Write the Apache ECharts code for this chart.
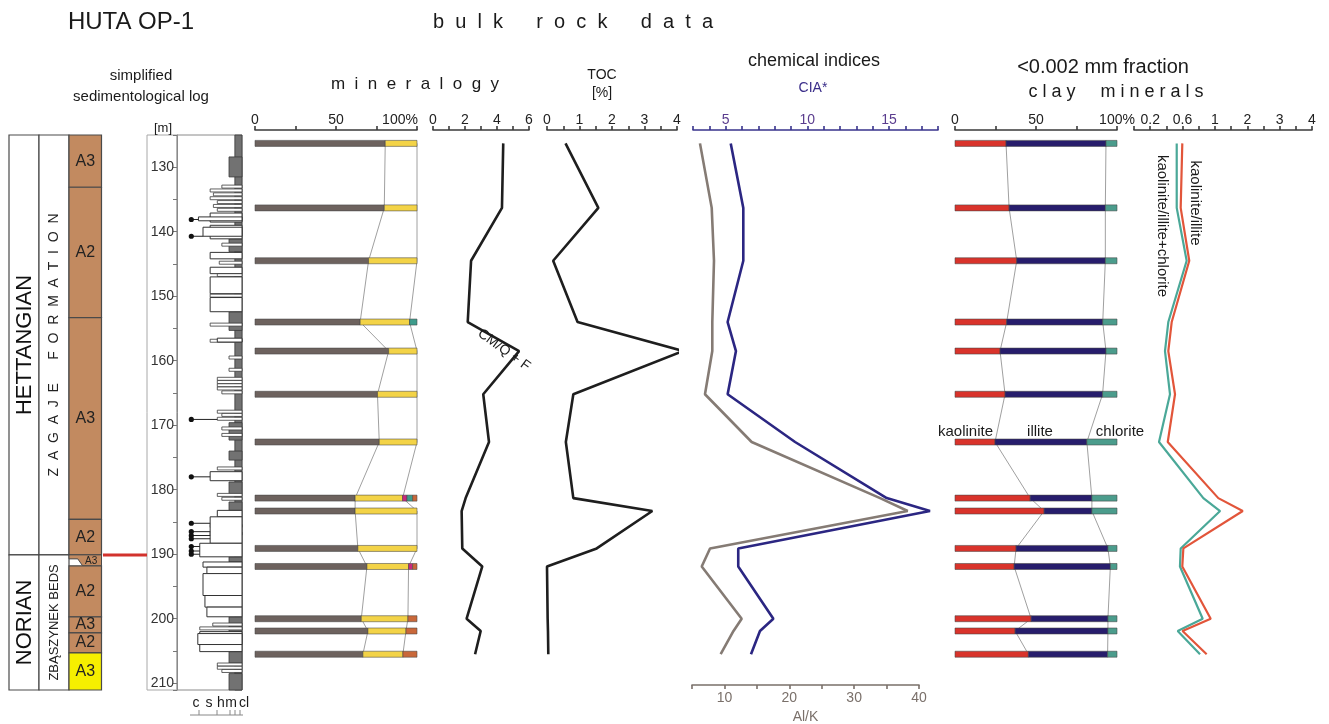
<!DOCTYPE html>
<html><head><meta charset="utf-8">
<script src="https://cdn.jsdelivr.net/npm/echarts@6/dist/echarts.min.js"></script>
<style>html,body{margin:0;padding:0;background:#fff}#c{width:1329px;height:724px}</style>
</head><body><div id="c"></div>
<script>
// ---------------- DATA ----------------
const sampleDepths = [126.3, 136.3, 144.5, 154.0, 158.5, 165.2, 172.6, 181.3, 183.3, 189.1, 191.9, 200.0, 201.9, 205.5];
// bulk rock mineralogy [%]
const bulkClayMinerals = [80.4, 79.8, 70.1, 64.9, 82.5, 75.6, 76.7, 61.8, 61.8, 63.5, 69.1, 65.6, 69.7, 66.6];
const bulkQuartz       = [19.6, 20.2, 29.9, 30.5, 17.5, 24.4, 23.3, 29.3, 38.2, 36.5, 25.7, 28.8, 23.5, 24.7];
const bulkPink         = [0, 0, 0, 0, 0, 0, 0, 2.7, 0, 0, 2.5, 0, 0, 0];
const bulkTeal         = [0, 0, 0, 4.6, 0, 0, 0, 3.5, 0, 0, 0, 0, 0, 0];
const bulkOrange       = [0, 0, 0, 0, 0, 0, 0, 2.7, 0, 0, 2.7, 5.6, 6.8, 8.7];
const cmQF   = [4.39, 4.31, 2.38, 2.17, 5.38, 3.14, 3.5, 2.04, 1.79, 1.83, 3.08, 2.1, 2.98, 2.63];
const toc    = [0.57, 1.58, 0.19, 0.94, 4.19, 0.81, 0.58, 0.81, 3.24, 1.53, 0.0, 0.02, 0.03, 0.04];
const ciaStar= [5.31, 6.08, 6.08, 5.12, 5.63, 5.12, 9.25, 14.86, 17.51, 5.77, 5.77, 7.92, 7.1, 6.55];
const alK    = [6.23, 8.04, 8.39, 8.13, 8.13, 7.0, 14.2, 34.0, 38.26, 7.78, 6.5, 12.66, 11.4, 9.42];
// <0.002 mm clay minerals [%]
const kaolinite = [31.5, 33.4, 38.1, 31.9, 27.8, 30.9, 24.7, 46.4, 55.0, 37.7, 36.5, 47.0, 37.1, 45.3];
const illite    = [61.7, 59.4, 54.7, 59.3, 65.4, 60.2, 56.7, 38.1, 29.5, 56.7, 59.4, 47.4, 57.3, 48.9];
const chlorite  = [6.8, 7.2, 7.2, 8.8, 6.8, 8.9, 18.6, 15.5, 15.5, 5.6, 4.1, 5.6, 5.6, 5.8];
const kaolIllite     = [0.597, 0.577, 0.683, 0.466, 0.424, 0.507, 0.417, 1.105, 1.86, 0.61, 0.597, 0.948, 0.60, 0.898];
const kaolIlliteChl  = [0.528, 0.528, 0.651, 0.424, 0.383, 0.445, 0.309, 0.857, 1.16, 0.577, 0.568, 0.849, 0.54, 0.816];
// stratigraphy
const stageNames = ['HETTANGIAN', 'NORIAN'];
const stageTops  = [125, 190.1];
const stageBases = [190.1, 211.05];
const formationNames = ['Z  A  G  A  J  E      F  O  R  M  A  T  I  O  N', 'ZBĄSZYNEK BEDS'];
const formationTops  = [125, 190.1];
const formationBases = [190.1, 211.05];
const faciesLabels = ['A3', 'A2', 'A3', 'A2', 'A3', 'A2', 'A3', 'A2', 'A3'];
const faciesTops   = [125, 133.1, 153.3, 184.6, 190.1, 191.8, 199.7, 202.2, 205.3];
const faciesBases  = [133.1, 153.3, 184.6, 190.1, 191.8, 199.7, 202.2, 205.3, 211.05];
const boundaryDepth = 190.1;
// lithological log: [top, base] mudstone; [top, base, grain index of left edge] sandstone
const logMudBase = [[125, 211.05]];
const logMudWide = [[128.4,131.5],[141.1,143.1],[152.4,155.3],[169.6,172.3],[174.0,175.4],[178.8,180.6],[181.9,183.2],[190.4,191.2],[199.7,202.0],[205.1,206.9],[208.5,211.05]];
const logSand = [[137.1,138.5,5.1],[137.7,138.3,3.3],[139.0,141.1,5.1],[139.3,140.7,4.0],[143.2,144.2,5.1],[145.5,146.5,5.1],[147.0,149.6,5.1],[150.2,152.4,5.1],[156.5,157.1,6.2],[177.2,178.6,5.1],[183.2,184.2,6.2],[184.2,188.3,5.1],[188.3,190.4,3.5],[191.2,192.0,4.0],[192.0,193.0,4.6],[193.0,196.4,4.0],[196.4,198.2,4.3],[198.2,199.7,4.6],[202.0,205.1,3.5],[202.3,204.0,3.2]];
const logThinBeds = [[133.0,6.9],[133.6,5.1],[134.2,5.6],[134.8,5.1],[135.4,6.2],[136.0,5.6],[136.6,6.2],[142.0,6.9],[144.8,6.5],[146.7,6.2],[149.9,5.1],[154.4,5.1],[156.9,5.1],[159.5,8.0],[161.4,8.0],[162.8,6.2],[163.3,6.2],[163.8,6.2],[164.3,6.2],[164.9,6.9],[167.9,6.2],[168.4,6.9],[169.0,6.2],[170.5,6.9],[171.5,6.9],[176.7,6.2],[180.8,6.2],[181.4,6.9],[185.6,5.1],[186.8,5.1],[200.9,5.5],[201.5,3.5],[207.1,6.2],[207.6,6.2],[208.1,6.9]];
const logPebbles = [[138.1,3.3],[140.7,4.0],[169.1,6.2],[178.0,5.1],[185.2,5.1],[186.5,5.1],[187.1,5.1],[187.6,5.1],[188.8,3.5],[189.5,3.5],[190.0,3.5]];
// tick labels
const mineralogyTickLabels = {0:'0', 50:'50', 100:'100%'};
const cmTickLabels = {0:'0', 2:'2', 4:'4', 6:'6'};
const tocTickLabels = {0:'0', 1:'1', 2:'2', 3:'3', 4:'4'};
const ciaTickLabels = {5:'5', 10:'10', 15:'15'};
const alkTickLabels = {10:'10', 20:'20', 30:'30', 40:'40'};
const ratioTickLabels = {1:'0.2', 3:'0.6', 5:'1', 7:'2', 9:'3', 11:'4'};

// ---------------- LAYOUT / STYLE ----------------
const FONT = '"Liberation Sans", Arial, sans-serif';
const TOP = 135, H = 555, D_MIN = 125, D_MAX = 211.05;
const PX_PER_M = H / (D_MAX - D_MIN);
const BAR_H = 6;
const COL = {stage:[0,30], formation:[30,60], facies:[60,92.5], marker:[94,138]};
const bulkColors = ['#6d625e', '#f3d347', '#c8287e', '#3e9c8c', '#c9683a'];
const clayColors = ['#d9332b', '#271d6c', '#4b9c8c'];
const faciesFill = ['#c28a60','#c28a60','#c28a60','#c28a60','#c28a60','#c28a60','#c28a60','#c28a60','#f6ef00'];
const faciesPinch = [0,0,0,0,1,0,0,0,0];
const AXIS_C = '#3a3a3a';

function ratioT(v){ return v <= 1 ? v * 5 : 5 + (v - 1) * 2; }
function stackSegments(comps){
  const out = [];
  sampleDepths.forEach((d, i) => {
    let acc = 0;
    comps.forEach((arr, k) => { const v = arr[i]; if (v > 0) out.push([d, acc, acc + v, k]); acc += v; });
  });
  return out;
}
function cum(comps, i){ return comps.reduce((s, a) => s + a[i], 0); }
function barRender(colors){
  return (params, api) => {
    const d = api.value(0), a = api.value(1), b = api.value(2), k = api.value(3);
    const p1 = api.coord([a, d]), p2 = api.coord([b, d]);
    return {type:'rect', shape:{x:p1[0], y:p1[1]-BAR_H/2, width:p2[0]-p1[0], height:BAR_H},
      style:{fill:colors[k], stroke:'rgba(70,70,70,0.55)', lineWidth:1}};
  };
}

const grids = [
  {left:9,   width:138}, // 0 columns
  {left:177, width:65},  // 1 log
  {left:255, width:162}, // 2 mineralogy
  {left:433, width:96},  // 3 CM/Q+F
  {left:547, width:130}, // 4 TOC
  {left:693, width:245}, // 5 CIA*
  {left:692, width:227, height:550}, // 6 Al/K
  {left:955, width:162}, // 7 clay
  {left:1134, width:178},// 8 ratios
  {left:147, width:30}   // 9 depth frame
].map((g, i) => Object.assign({top:TOP, height:H, containLabel:false, outerBoundsMode:'none',
   show: i === 1 || i === 9, borderColor: i === 9 ? '#a8a8a8' : '#8a8a8a', borderWidth:1}, g));

function topAxis(gi, min, max, interval, labels, extra){
  return Object.assign({
    gridIndex:gi, type:'value', position:'top', offset:5, min, max, interval,
    axisLine:{show:true, onZero:false, lineStyle:{color:AXIS_C, width:1.6}},
    axisTick:{show:true, length:4, lineStyle:{color:AXIS_C, width:1.6}},
    splitLine:{show:false},
    axisLabel:{fontSize:14, fontFamily:FONT, color:'#222', margin:3,
      formatter: v => { const k = Math.round(v*1000)/1000; return labels[k] !== undefined ? labels[k] : ''; }}
  }, extra || {});
}

const xAxes = [
  {gridIndex:0, type:'value', min:0, max:138, show:false},
  {gridIndex:1, type:'value', min:0, max:10, show:false},
  topAxis(2, 0, 100, 25, mineralogyTickLabels),
  topAxis(3, 0, 6, 1, cmTickLabels),
  topAxis(4, 0, 4, 0.5, tocTickLabels),
  topAxis(5, 3, 18, 1, ciaTickLabels, {axisLine:{show:true,onZero:false,lineStyle:{color:'#38338c',width:1.6}}, axisTick:{length:4,lineStyle:{color:'#38338c',width:1.6}}}),
  {gridIndex:6, type:'value', position:'bottom', min:5, max:40, interval:5,
    axisLine:{show:true, onZero:false, lineStyle:{color:'#7a706a', width:1.6}},
    axisTick:{length:4, lineStyle:{color:'#7a706a', width:1.6}}, splitLine:{show:false},
    axisLabel:{fontSize:14, fontFamily:FONT, color:'#7a706a', margin:6, formatter: v => alkTickLabels[v] || ''},
    name:'Al/K', nameLocation:'middle', nameGap:25, nameTextStyle:{fontSize:14, fontFamily:FONT, color:'#7a706a'}},
  topAxis(7, 0, 100, 25, mineralogyTickLabels),
  topAxis(8, 0, 11, 1, ratioTickLabels),
  {gridIndex:9, type:'value', min:0, max:1, show:false}
];
xAxes[5].axisLabel.color = '#5a3c8e';
// shift the "100%" label of the mineralogy axis to the left of its tick
xAxes[2].axisLabel.formatter = v => v === 100 ? '{r|100%}' : (mineralogyTickLabels[v] || '');
xAxes[2].axisLabel.rich = {r:{fontSize:14, fontFamily:FONT, color:'#222', padding:[0,34,0,0]}};

const yAxes = grids.map((g, i) => {
  const max = i === 6 ? D_MIN + 550 / PX_PER_M : D_MAX;
  if (i === 1) return {gridIndex:1, type:'value', inverse:true, min:D_MIN, max, interval:5,
    axisLine:{show:true, onZero:false, lineStyle:{color:'#8a8a8a', width:1}},
    axisTick:{show:true, length:4, lineStyle:{color:'#777'}}, splitLine:{show:false},
    axisLabel:{fontSize:14, fontFamily:FONT, color:'#333', margin:3,
      formatter: v => (Math.abs(v % 10) < 1e-6 ? String(Math.round(v)) : '')}};
  return {gridIndex:i, type:'value', inverse:true, min:D_MIN, max, show:false};
});

function lineSeries(gi, xs, color, width, tf){
  return {type:'line', xAxisIndex:gi, yAxisIndex:gi, showSymbol:false, silent:true, z:3, clip:false,
    lineStyle:{color, width}, data: sampleDepths.map((d, i) => [tf ? tf(xs[i]) : xs[i], d])};
}
function connector(gi, xs){
  return {type:'line', xAxisIndex:gi, yAxisIndex:gi, showSymbol:false, silent:true, z:1,
    lineStyle:{color:'#a0a0a0', width:1}, data: sampleDepths.map((d, i) => [xs[i], d])};
}

const bulkComps = [bulkClayMinerals, bulkQuartz, bulkPink, bulkTeal, bulkOrange];
const clayComps = [kaolinite, illite, chlorite];

const series = [
  // stage column
  {type:'custom', xAxisIndex:0, yAxisIndex:0, silent:true, encode:{x:2, y:[0,1]},
   data: stageTops.map((t, i) => [t, stageBases[i], i]),
   renderItem:(params, api) => {
     const i = params.dataIndex;
     const p1 = api.coord([COL.stage[0], api.value(0)]), p2 = api.coord([COL.stage[1], api.value(1)]);
     return {type:'group', children:[
       {type:'rect', shape:{x:p1[0], y:p1[1], width:p2[0]-p1[0], height:p2[1]-p1[1]}, style:{fill:'#fff', stroke:'#4a4a4a', lineWidth:1.2}},
       {type:'text', x:(p1[0]+p2[0])/2+1, y:(p1[1]+p2[1])/2, rotation:Math.PI/2,
        style:{text:stageNames[i], font:'22px '+FONT, fill:'#111', align:'center', verticalAlign:'middle'}}
     ]};
   }},
  // formation column
  {type:'custom', xAxisIndex:0, yAxisIndex:0, silent:true, encode:{x:2, y:[0,1]},
   data: formationTops.map((t, i) => [t, formationBases[i], i]),
   renderItem:(params, api) => {
     const i = params.dataIndex;
     const p1 = api.coord([COL.formation[0], api.value(0)]), p2 = api.coord([COL.formation[1], api.value(1)]);
     return {type:'group', children:[
       {type:'rect', shape:{x:p1[0], y:p1[1], width:p2[0]-p1[0], height:p2[1]-p1[1]}, style:{fill:'#fff', stroke:'#4a4a4a', lineWidth:1.2}},
       {type:'text', x:(p1[0]+p2[0])/2, y:(p1[1]+p2[1])/2, rotation:Math.PI/2,
        style:{text:formationNames[i], font:(i===0?'14px ':'13px ')+FONT, fill:'#222', align:'center', verticalAlign:'middle'}}
     ]};
   }},
  // facies column
  {type:'custom', xAxisIndex:0, yAxisIndex:0, silent:true, encode:{x:2, y:[0,1]},
   data: faciesTops.map((t, i) => [t, faciesBases[i], i]),
   renderItem:(params, api) => {
     const i = params.dataIndex;
     const top = api.value(0), base = api.value(1);
     const p1 = api.coord([COL.facies[0], top]), p2 = api.coord([COL.facies[1], base]);
     const children = [];
     if (faciesPinch[i]) {
       const w = p2[0]-p1[0];
       const yT = p1[1], yB = p2[1], yM = yT + 4;
       children.push({type:'polygon', shape:{points:[[p1[0],yT],[p2[0],yT],[p2[0],yB],[p1[0]+w*0.42,yB],[p1[0]+w*0.27,yM],[p1[0],yM]]},
         style:{fill:faciesFill[i], stroke:'#4a4a4a', lineWidth:1}});
       children.push({type:'text', x:p1[0]+w*0.68, y:(yT+yB)/2+0.5,
         style:{text:faciesLabels[i], font:'10px '+FONT, fill:'#222', align:'center', verticalAlign:'middle'}});
     } else {
       children.push({type:'rect', shape:{x:p1[0], y:p1[1], width:p2[0]-p1[0], height:p2[1]-p1[1]}, style:{fill:faciesFill[i], stroke:'#4a4a4a', lineWidth:1.2}});
       children.push({type:'text', x:(p1[0]+p2[0])/2, y:(p1[1]+p2[1])/2,
         style:{text:faciesLabels[i], font:'16px '+FONT, fill:'#222', align:'center', verticalAlign:'middle'}});
     }
     return {type:'group', children};
   }},
  // boundary marker
  {type:'custom', xAxisIndex:0, yAxisIndex:0, silent:true, encode:{x:1, y:0},
   data:[[boundaryDepth, 0]],
   renderItem:(params, api) => {
     const p1 = api.coord([COL.marker[0], api.value(0)]), p2 = api.coord([COL.marker[1], api.value(0)]);
     return {type:'line', shape:{x1:p1[0], y1:p1[1], x2:p2[0], y2:p2[1]}, style:{stroke:'#d2322d', lineWidth:3}};
   }},
  // log: mud base & wide mud
  {type:'custom', xAxisIndex:1, yAxisIndex:1, silent:true, encode:{x:2, y:[0,1]},
   data: logMudBase.map(r => [r[0], r[1], 8.9]).concat(logMudWide.map(r => [r[0], r[1], 8.0])),
   renderItem:(params, api) => {
     const p1 = api.coord([api.value(2), api.value(0)]), p2 = api.coord([10, api.value(1)]);
     return {type:'rect', shape:{x:p1[0], y:p1[1], width:p2[0]-p1[0], height:p2[1]-p1[1]}, style:{fill:'#727272', stroke:'#3a3a3a', lineWidth:0.8}};
   }},
  // log: thin beds
  {type:'custom', xAxisIndex:1, yAxisIndex:1, silent:true, encode:{x:1, y:0},
   data: logThinBeds,
   renderItem:(params, api) => {
     const p1 = api.coord([api.value(1), api.value(0)]), p2 = api.coord([10, api.value(0)]);
     return {type:'rect', shape:{x:p1[0], y:p1[1]-1.5, width:p2[0]-p1[0], height:3}, style:{fill:'#fff', stroke:'#3a3a3a', lineWidth:0.8}};
   }},
  // log: sandstone
  {type:'custom', xAxisIndex:1, yAxisIndex:1, silent:true, encode:{x:2, y:[0,1]},
   data: logSand,
   renderItem:(params, api) => {
     const p1 = api.coord([api.value(2), api.value(0)]), p2 = api.coord([10, api.value(1)]);
     return {type:'rect', shape:{x:p1[0], y:p1[1], width:p2[0]-p1[0], height:p2[1]-p1[1]}, style:{fill:'#fff', stroke:'#333', lineWidth:1}};
   }},
  // log: pebbles
  {type:'custom', xAxisIndex:1, yAxisIndex:1, silent:true, encode:{x:1, y:0},
   data: logPebbles,
   renderItem:(params, api) => {
     const p0 = api.coord([2.2, api.value(0)]), p1 = api.coord([api.value(1), api.value(0)]);
     return {type:'group', children:[
       {type:'line', shape:{x1:p0[0], y1:p0[1], x2:p1[0], y2:p1[1]}, style:{stroke:'#222', lineWidth:1}},
       {type:'circle', shape:{cx:p0[0], cy:p0[1], r:2.6}, style:{fill:'#111'}}
     ]};
   }},
  // mineralogy bars
  connector(2, sampleDepths.map((d,i) => cum([bulkClayMinerals], i))),
  connector(2, sampleDepths.map((d,i) => cum([bulkClayMinerals, bulkQuartz], i))),
  {type:'custom', xAxisIndex:2, yAxisIndex:2, silent:true, z:2, encode:{x:[1,2], y:0},
   data: stackSegments(bulkComps), renderItem: barRender(bulkColors)},
  lineSeries(3, cmQF, '#1e1e1e', 2.6),
  lineSeries(4, toc, '#1e1e1e', 2.6),
  lineSeries(6, alK, '#857b74', 2.6),
  lineSeries(5, ciaStar, '#2b2682', 2.6),
  // clay minerals
  connector(7, sampleDepths.map((d,i) => cum([kaolinite], i))),
  connector(7, sampleDepths.map((d,i) => cum([kaolinite, illite], i))),
  {type:'custom', xAxisIndex:7, yAxisIndex:7, silent:true, z:2, encode:{x:[1,2], y:0},
   data: stackSegments(clayComps), renderItem: barRender(clayColors)},
  lineSeries(8, kaolIlliteChl, '#4aa898', 2.2, ratioT),
  lineSeries(8, kaolIllite, '#e2553a', 2.2, ratioT)
];

function txt(x, y, text, size, extra){
  return Object.assign({type:'text', x, y, silent:true, z:10,
    style:Object.assign({text, font: size+'px '+FONT, fill:'#1a1a1a', align:'center', verticalAlign:'middle'}, (extra && extra.style) || {})},
    extra ? {rotation: extra.rotation || 0} : {});
}

const graphic = [
  txt(131, 22, 'HUTA OP-1', 24),
  txt(573, 22, 'b  u  l  k      r  o  c  k      d  a  t  a', 20),
  txt(141, 76, 'simplified', 15),
  txt(141, 97, 'sedimentological log', 15),
  txt(163, 128, '[m]', 13),
  txt(415, 84, 'm  i  n  e  r  a  l  o  g  y', 17),
  txt(602, 75, 'TOC', 14),
  txt(602, 93, '[%]', 14),
  txt(814, 61, 'chemical indices', 18),
  txt(813, 88, 'CIA*', 14, {style:{fill:'#3b2e8a'}}),
  txt(1103, 67, '<0.002 mm fraction', 20),
  txt(1116, 92, 'c l a y     m i n e r a l s', 18),
  txt(504, 350, 'CM/Q + F', 14, {rotation:-0.63}),
  txt(993, 432, 'kaolinite', 15, {style:{align:'right'}}),
  txt(1040, 432, 'illite', 15),
  txt(1120, 432, 'chlorite', 15),
  txt(1195, 203, 'kaolinite/illite', 15, {rotation:-Math.PI/2}),
  txt(1162, 226, 'kaolinite/illite+chlorite', 15, {rotation:-Math.PI/2}),
  txt(196, 703, 'c', 14), txt(209, 703, 's', 14), txt(221, 703, 'h', 14), txt(231, 703, 'm', 14), txt(244, 703, 'cl', 14),
  {type:'polyline', silent:true, shape:{points:[[190,715],[243,715]]}, style:{stroke:'#888', lineWidth:1}},
  {type:'polyline', silent:true, shape:{points:[[199,715],[199,710]]}, style:{stroke:'#888', lineWidth:1}},
  {type:'polyline', silent:true, shape:{points:[[217,715],[217,710]]}, style:{stroke:'#888', lineWidth:1}},
  {type:'polyline', silent:true, shape:{points:[[230,715],[230,710]]}, style:{stroke:'#888', lineWidth:1}},
  {type:'polyline', silent:true, shape:{points:[[235,715],[235,710]]}, style:{stroke:'#888', lineWidth:1}},
  {type:'polyline', silent:true, shape:{points:[[240,715],[240,710]]}, style:{stroke:'#888', lineWidth:1}}
];

const chart = echarts.init(document.getElementById('c'), null, {renderer:'canvas'});
chart.setOption({
  animation:false,
  backgroundColor:'#fff',
  textStyle:{fontFamily:FONT},
  grid: grids, xAxis: xAxes, yAxis: yAxes, series, graphic
});
</script></body></html>
